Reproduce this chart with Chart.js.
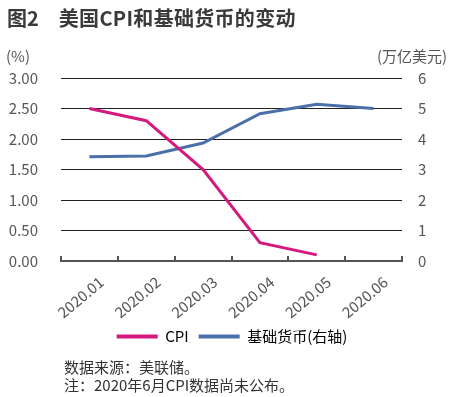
<!DOCTYPE html>
<html>
<head>
<meta charset="utf-8">
<script src="https://cdn.jsdelivr.net/npm/chart.js@4"></script>
<style>
    body { margin: 0; background: #fff; font-family: "Noto Sans CJK SC", sans-serif; }
    #wrap { position: relative; width: 464px; height: 397px; overflow: hidden; }
    canvas { position: absolute; left: 0; top: 0; }
    .t { position: absolute; white-space: nowrap; color: #333; line-height: 1; }
</style>
</head>
<body>
<div id="wrap">
    <canvas id="chart" width="464" height="360"></canvas>
    <div class="t" style="left:7px;top:8px;font-size:20px;font-weight:bold;color:#3a3a3a">图2<span style="margin-left:20px;letter-spacing:0.3px">美国CPI和基础货币的变动</span></div>
    <div class="t" style="left:6px;top:48px;font-size:15px;color:#555">(%)</div>
    <div class="t" style="left:377px;top:48px;font-size:15px;color:#555">(万亿美元)</div>
    <div class="t" style="left:64px;top:359px;font-size:15px">数据来源：美联储。</div>
    <div class="t" style="left:64px;top:377px;font-size:15px">注：2020年6月CPI数据尚未公布。</div>
</div>
<script>
// 数据
const months = ['2020.01', '2020.02', '2020.03', '2020.04', '2020.05', '2020.06'];
const cpi = [2.5, 2.3, 1.5, 0.3, 0.1, null];          // %
const baseMoney = [3.42, 3.44, 3.87, 4.83, 5.14, 5.0]; // 万亿美元 (右轴)

const FONT = '"Noto Sans CJK SC", sans-serif';

// x轴上向内的刻度线
const innerTicks = {
    id: 'innerTicks',
    afterDraw(chart) {
        const x = chart.scales.x;
        const ctx = chart.ctx;
        const step = x.width / months.length;
        ctx.save();
        ctx.strokeStyle = '#555';
        ctx.lineWidth = 2;
        for (let i = 0; i <= months.length; i++) {
            const px = Math.round(x.left + i * step);
            ctx.beginPath();
            ctx.moveTo(px, x.top);
            ctx.lineTo(px, x.top - 5);
            ctx.stroke();
        }
        ctx.restore();
    }
};

new Chart(document.getElementById('chart'), {
    type: 'line',
    data: {
        labels: months,
        datasets: [
            {
                label: 'CPI',
                data: cpi,
                borderColor: '#d6197e',
                backgroundColor: '#d6197e',
                borderWidth: 3,
                pointRadius: 0,
                yAxisID: 'y',
            },
            {
                label: '基础货币(右轴)',
                data: baseMoney,
                borderColor: '#4b6fa8',
                backgroundColor: '#4b6fa8',
                borderWidth: 3,
                pointRadius: 0,
                yAxisID: 'y2',
            },
        ],
    },
    options: {
        responsive: false,
        animation: false,
        layout: { padding: { top: 78, left: 0, right: 0, bottom: 6 } },
        plugins: {
            tooltip: { enabled: false },
            legend: {
                position: 'bottom',
                labels: {
                    boxWidth: 41,
                    boxHeight: 4,
                    padding: 10,
                    color: '#333',
                    font: { family: FONT, size: 15 },
                    useBorderRadius: true,
                    borderRadius: 2,
                    generateLabels: function (chart) {
                        return chart.data.datasets.map((d, i) => ({
                            text: d.label,
                            fillStyle: d.borderColor,
                            strokeStyle: d.borderColor,
                            lineWidth: 0,
                            datasetIndex: i,
                        }));
                    }
                }
            }
        },
        scales: {
            x: {
                offset: true,
                afterFit: function (s) { s.height = 58; },
                grid: { display: false, offset: true },
                border: { display: true, color: '#555', width: 2 },
                ticks: {
                    minRotation: 40,
                    maxRotation: 40,
                    labelOffset: 12,
                    padding: 4,
                    color: '#555',
                    font: { family: FONT, size: 15 },
                }
            },
            y: {
                position: 'left',
                min: 0,
                max: 3,
                afterFit: function (s) { s.width = 61; },
                grid: { color: '#222', lineWidth: 1, drawTicks: false },
                border: { display: false },
                ticks: {
                    stepSize: 0.5,
                    padding: 23,
                    color: '#555',
                    font: { family: FONT, size: 15 },
                    callback: function (value) { return value.toFixed(2); }
                }
            },
            y2: {
                position: 'right',
                min: 0,
                max: 6,
                afterFit: function (s) { s.width = 62; },
                grid: { drawOnChartArea: false, drawTicks: false },
                border: { display: false },
                ticks: {
                    stepSize: 1,
                    padding: 16,
                    color: '#555',
                    font: { family: FONT, size: 15 },
                }
            }
        }
    },
    plugins: [innerTicks],
});
</script>
</body>
</html>
